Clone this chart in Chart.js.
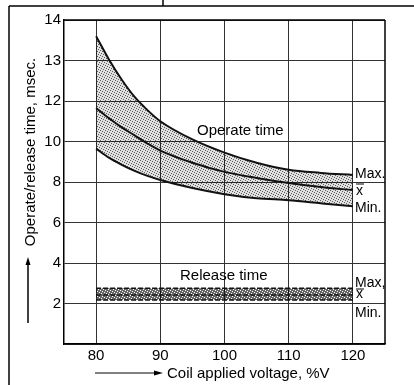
<!DOCTYPE html>
<html>
<head>
<meta charset="utf-8">
<script src="https://cdn.jsdelivr.net/npm/chart.js@4/dist/chart.umd.min.js"></script>
<style>
  html, body { margin: 0; padding: 0; background: #fff; }
  #chart { display: block; }
</style>
</head>
<body>
<canvas id="chart" width="414" height="385"></canvas>
<script>
// Coil voltage (%V) and operate time band (grid units, 2 per division)
const voltage = [80, 82, 84, 86, 88, 90, 95, 100, 105, 110, 115, 120];
const operateMax = [15.2, 14.05, 13.05, 12.2, 11.55, 11.0, 10.1, 9.45, 8.95, 8.6, 8.45, 8.35];
const operateMean = [11.65, 11.15, 10.7, 10.3, 9.9, 9.55, 8.95, 8.5, 8.2, 7.95, 7.75, 7.6];
const operateMin = [9.65, 9.2, 8.85, 8.55, 8.3, 8.1, 7.7, 7.4, 7.2, 7.1, 6.95, 6.8];

// Release time is flat across the voltage range
const releaseVoltage = [80, 120];
const releaseMax = [2.75, 2.75];
const releaseMean = [2.42, 2.42];
const releaseMin = [2.17, 2.17];

const xTicks = [80, 90, 100, 110, 120];
const yTicks = [0, 2, 4, 6, 8, 10, 12, 14, 16];
const yTickLabels = ["", "2", "4", "6", "8", "10", "12", "13", "14"];

const FONT = "'Liberation Sans', Arial, Helvetica, sans-serif";

function points(xs, ys) {
  return xs.map((x, i) => ({ x: x, y: ys[i] }));
}

// small repeating dot texture for the shaded bands
function makeStipple(ctx, base, dot, clear) {
  const c = document.createElement("canvas");
  c.width = 5;
  c.height = 5;
  const p = c.getContext("2d");
  p.fillStyle = base;
  p.fillRect(0, 0, 5, 5);
  const dots = [[0, 0], [2, 1], [4, 2], [1, 3], [3, 4]];
  dots.forEach(([x, y]) => {
    if (clear) p.clearRect(x, y, 1, 1);
    else {
      p.fillStyle = dot;
      p.fillRect(x, y, 1, 1);
    }
  });
  return ctx.createPattern(c, "repeat");
}

function line(ctx, x1, y1, x2, y2) {
  ctx.beginPath();
  ctx.moveTo(x1, y1);
  ctx.lineTo(x2, y2);
  ctx.stroke();
}

function xBar(ctx, x, baseline, y) {
  ctx.fillText("x", x, baseline);
  ctx.lineWidth = 1;
  line(ctx, x, y, x + 8, y);
}

const decorations = {
  id: "decorations",
  afterDraw(chart) {
    const ctx = chart.ctx;
    const a = chart.chartArea;
    ctx.save();
    ctx.strokeStyle = "#000";
    ctx.fillStyle = "#000";

    // plot box top and right edges
    ctx.lineWidth = 1.5;
    line(ctx, a.left, a.top, a.right, a.top);
    line(ctx, a.right, a.top, a.right, a.bottom);

    // outer figure frame
    line(ctx, 9, 6, 414, 6);
    line(ctx, 9, 6, 9, 385);
    line(ctx, 163, 0, 163, 6);

    // band captions
    ctx.font = "15px " + FONT;
    ctx.textAlign = "left";
    ctx.textBaseline = "alphabetic";
    ctx.fillText("Operate time", 197, 135);
    ctx.fillText("Release time", 180, 280);

    ctx.font = "14px " + FONT;
    ctx.fillText("Max.", 355, 178);
    xBar(ctx, 356, 195, 184);
    ctx.fillText("Min.", 355, 212);
    ctx.fillText("Max,", 355, 287);
    xBar(ctx, 356, 298, 289);
    ctx.fillText("Min.", 355, 317);

    // y-axis title with upward arrow
    ctx.font = "15px " + FONT;
    ctx.save();
    ctx.translate(35, 152);
    ctx.rotate(-Math.PI / 2);
    ctx.textAlign = "center";
    ctx.fillText("Operate/release time, msec.", 0, 0);
    ctx.restore();
    ctx.lineWidth = 1.5;
    line(ctx, 28, 323, 28, 263);
    ctx.beginPath();
    ctx.moveTo(28, 257);
    ctx.lineTo(25.5, 265);
    ctx.lineTo(30.5, 265);
    ctx.closePath();
    ctx.fill();

    // x-axis title with arrow
    ctx.lineWidth = 1;
    line(ctx, 95, 373, 156, 373);
    ctx.beginPath();
    ctx.moveTo(163, 373);
    ctx.lineTo(154, 370.5);
    ctx.lineTo(154, 375.5);
    ctx.closePath();
    ctx.fill();
    ctx.textAlign = "left";
    ctx.fillText("Coil applied voltage, %V", 167, 378);

    ctx.restore();
  },
};

const canvas = document.getElementById("chart");
const ctx = canvas.getContext("2d");
const operateFill = makeStipple(ctx, "rgba(0,0,0,0.12)", "rgba(0,0,0,0.6)", false);
const releaseFill = makeStipple(ctx, "rgba(0,0,0,0.6)", null, true);

const curve = {
  pointRadius: 0,
  borderColor: "#111",
  borderWidth: 2,
  cubicInterpolationMode: "monotone",
  fill: false,
};
const dashed = {
  pointRadius: 0,
  borderColor: "#111",
  borderWidth: 1.5,
  borderDash: [5, 2],
  fill: false,
};

new Chart(canvas, {
  type: "line",
  data: {
    datasets: [
      Object.assign({}, curve, { label: "Max.", data: points(voltage, operateMax), fill: "+2", backgroundColor: operateFill }),
      Object.assign({}, curve, { label: "Mean", data: points(voltage, operateMean) }),
      Object.assign({}, curve, { label: "Min.", data: points(voltage, operateMin) }),
      Object.assign({}, dashed, { label: "Release max.", data: points(releaseVoltage, releaseMax), fill: "+2", backgroundColor: releaseFill }),
      Object.assign({}, dashed, { label: "Release mean", data: points(releaseVoltage, releaseMean) }),
      Object.assign({}, dashed, { label: "Release min.", data: points(releaseVoltage, releaseMin) }),
    ],
  },
  options: {
    responsive: false,
    animation: false,
    layout: { padding: { top: 20, right: 29, bottom: 0, left: 0 } },
    plugins: {
      legend: { display: false },
      tooltip: { enabled: false },
      filler: { drawTime: "beforeDatasetsDraw" },
    },
    scales: {
      x: {
        type: "linear",
        min: 75,
        max: 125,
        afterBuildTicks: (s) => { s.ticks = xTicks.map((v) => ({ value: v })); },
        afterFit: (s) => { s.height = 41; },
        ticks: { color: "#000", font: { size: 15, family: FONT }, padding: 3, maxRotation: 0, autoSkip: false },
        grid: { color: "#333", lineWidth: 1, drawTicks: false },
        border: { color: "#000", width: 1.5 },
      },
      y: {
        min: 0,
        max: 16,
        afterBuildTicks: (s) => { s.ticks = yTicks.map((v) => ({ value: v })); },
        afterFit: (s) => { s.width = 64; },
        ticks: {
          color: "#000",
          font: { size: 15, family: FONT },
          padding: 3,
          autoSkip: false,
          callback: (v) => yTickLabels[yTicks.indexOf(v)] ?? "",
        },
        grid: { color: "#333", lineWidth: 1, drawTicks: false },
        border: { color: "#000", width: 1.5 },
      },
    },
  },
  plugins: [decorations],
});
</script>
</body>
</html>
